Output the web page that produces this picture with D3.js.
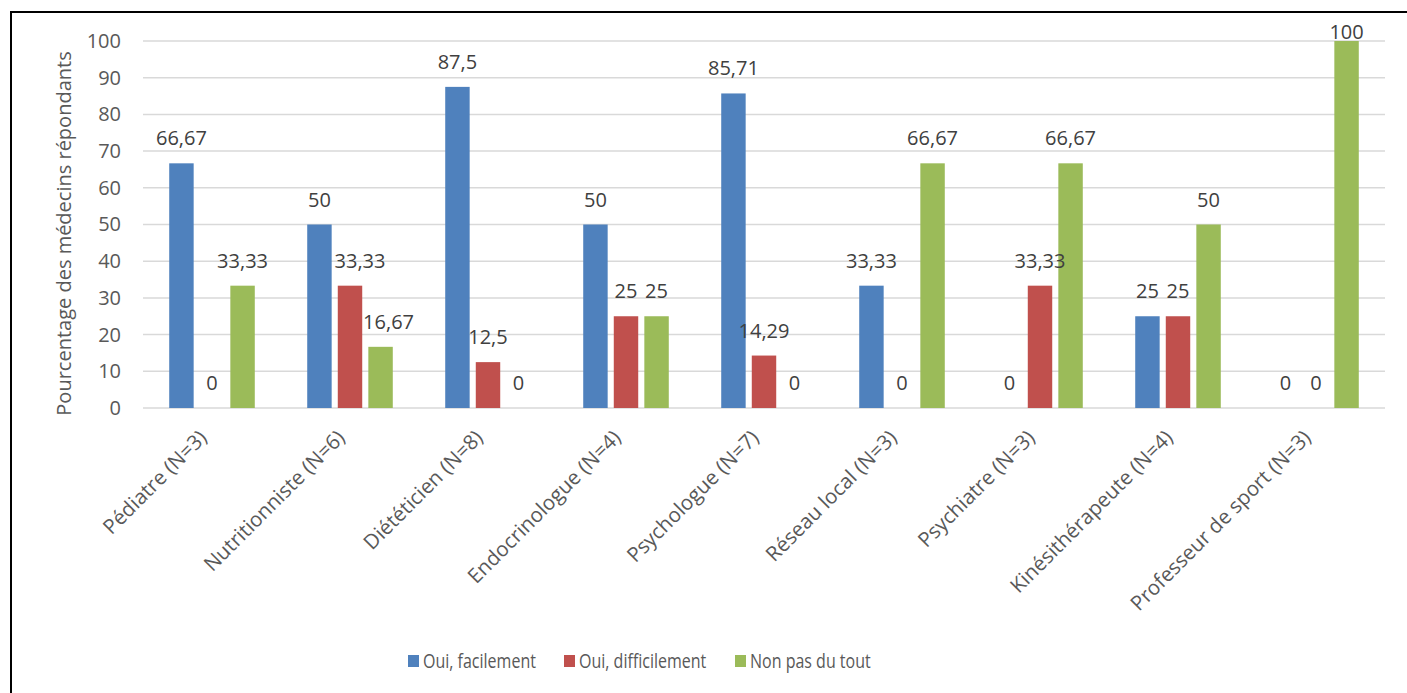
<!DOCTYPE html>
<html>
<head>
<meta charset="utf-8">
<script src="https://cdn.jsdelivr.net/npm/d3@7"></script>
<style>
  body { margin: 0; background: #fff; }
  svg { display: block; }
</style>
</head>
<body>
<div id="wrapper"></div>
<script>
const FONT_FAMILY = "'Open Sans', sans-serif";
const TEXT_COLOR = "#595959";
const GRID_COLOR = "#D9D9D9";

const categories = [
    "Pédiatre (N=3)",
    "Nutritionniste (N=6)",
    "Diététicien (N=8)",
    "Endocrinologue (N=4)",
    "Psychologue (N=7)",
    "Réseau local (N=3)",
    "Psychiatre (N=3)",
    "Kinésithérapeute (N=4)",
    "Professeur de sport (N=3)",
];

const seriesNames = ["Oui, facilement", "Oui, difficilement", "Non pas du tout"];
const seriesColors = ["#4F81BD", "#C0504D", "#9BBB59"];

const facilement = [66.67, 50, 87.5, 50, 85.71, 33.33, 0, 25, 0];
const difficilement = [0, 33.33, 12.5, 25, 14.29, 0, 33.33, 25, 0];
const pasDuTout = [33.33, 16.67, 0, 25, 0, 66.67, 66.67, 50, 100];

const yTicks = [0, 10, 20, 30, 40, 50, 60, 70, 80, 90, 100];

const seriesValues = [facilement, difficilement, pasDuTout];

// labels that the spreadsheet pushed sideways to clear the neighbouring bar
const LABEL_NUDGE = { "Nutritionniste (N=6)|1": 10, "Nutritionniste (N=6)|2": 8 };

function drawChart() {
    const dimensions = {
        width: 1407,
        height: 693,
        margin: { top: 41, right: 22, bottom: 285, left: 143 },
    };
    dimensions.boundedWidth = dimensions.width - dimensions.margin.left - dimensions.margin.right;
    dimensions.boundedHeight = dimensions.height - dimensions.margin.top - dimensions.margin.bottom;

    const wrapper = d3.select("#wrapper")
        .append("svg")
        .attr("width", dimensions.width)
        .attr("height", dimensions.height)
        .style("font-family", FONT_FAMILY);

    // outer frame
    wrapper.append("rect")
        .attr("x", 11)
        .attr("y", 12)
        .attr("width", 1420)
        .attr("height", 720)
        .attr("fill", "none")
        .attr("stroke", "#000")
        .attr("stroke-width", 2);

    const bounds = wrapper.append("g")
        .attr("transform", `translate(${dimensions.margin.left},${dimensions.margin.top})`);

    const xScale = d3.scaleBand()
        .domain(categories)
        .range([0, dimensions.boundedWidth])
        .paddingInner(0.38)
        .paddingOuter(0.19);

    const xInner = d3.scaleBand()
        .domain(d3.range(seriesNames.length))
        .range([0, xScale.bandwidth()])
        .paddingInner(0.2);

    const yScale = d3.scaleLinear()
        .domain([0, 100])
        .range([dimensions.boundedHeight, 0]);

    // gridlines
    bounds.append("g")
        .selectAll("line")
        .data(yTicks)
        .join("line")
        .attr("x1", 0)
        .attr("x2", dimensions.boundedWidth)
        .attr("y1", d => yScale(d))
        .attr("y2", d => yScale(d))
        .attr("stroke", GRID_COLOR)
        .attr("stroke-width", 1.5);

    // y axis labels
    const yAxis = d3.axisLeft(yScale)
        .tickValues(yTicks)
        .tickSize(0)
        .tickPadding(22);
    const yAxisGroup = bounds.append("g").call(yAxis);
    yAxisGroup.select(".domain").remove();
    yAxisGroup.selectAll("text")
        .attr("fill", TEXT_COLOR)
        .style("font-size", "20px")
        .style("font-family", FONT_FAMILY);

    // y axis title
    wrapper.append("text")
        .attr("transform", `translate(71,${dimensions.margin.top + dimensions.boundedHeight / 2 + 9}) rotate(-90)`)
        .attr("text-anchor", "middle")
        .attr("fill", TEXT_COLOR)
        .style("font-size", "20px")
        .text("Pourcentage des médecins répondants");

    // bars
    const flat = [];
    categories.forEach((c, i) => {
        seriesValues.forEach((vals, s) => {
            flat.push({ category: c, series: s, value: vals[i] });
        });
    });

    const barX = d => xScale(d.category) + xInner(d.series);

    bounds.append("g")
        .selectAll("rect")
        .data(flat)
        .join("rect")
        .attr("x", barX)
        .attr("y", d => yScale(d.value))
        .attr("width", xInner.bandwidth())
        .attr("height", d => dimensions.boundedHeight - yScale(d.value))
        .attr("fill", d => seriesColors[d.series]);

    // data labels
    bounds.append("g")
        .selectAll("text")
        .data(flat)
        .join("text")
        .attr("x", d => barX(d) + xInner.bandwidth() / 2 + (LABEL_NUDGE[d.category + "|" + d.series] || 0))
        .attr("y", d => Math.max(yScale(d.value) - 18, -2))
        .attr("text-anchor", "middle")
        .attr("fill", "#404040")
        .style("font-size", "20px")
        .text(d => String(d.value).replace(".", ","));

    // x axis labels
    bounds.append("g")
        .selectAll("text")
        .data(categories)
        .join("text")
        .attr("transform", d => `translate(${xScale(d) + xScale.bandwidth() / 2 - 4},${dimensions.boundedHeight + 31}) rotate(-45)`)
        .attr("text-anchor", "end")
        .attr("fill", TEXT_COLOR)
        .style("font-size", "20.5px")
        .text(d => d);

    // legend
    const legendItems = [
        { name: seriesNames[0], color: seriesColors[0], x: 408 },
        { name: seriesNames[1], color: seriesColors[1], x: 564 },
        { name: seriesNames[2], color: seriesColors[2], x: 735 },
    ];
    const legend = wrapper.append("g");
    const items = legend.selectAll("g")
        .data(legendItems)
        .join("g")
        .attr("transform", d => `translate(${d.x},655)`);
    items.append("rect")
        .attr("width", 11)
        .attr("height", 12)
        .attr("fill", d => d.color);
    items.append("text")
        .attr("transform", "translate(15,13) scale(0.8,1)")
        .attr("fill", TEXT_COLOR)
        .style("font-size", "20px")
        .text(d => d.name);
}

drawChart();
</script>
</body>
</html>
